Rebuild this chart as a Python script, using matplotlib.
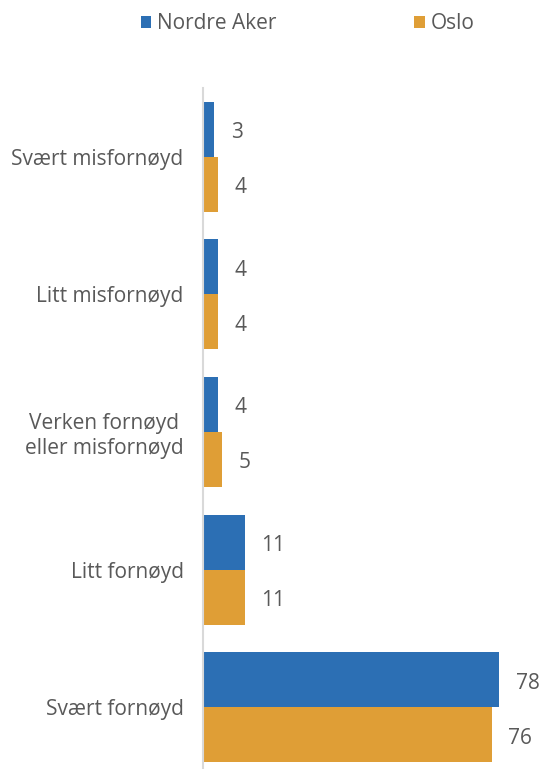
import matplotlib.pyplot as plt
import numpy as np

categories = ['Svært misfornøyd', 'Litt misfornøyd', 'Verken fornøyd\neller misfornøyd',
              'Litt fornøyd', 'Svært fornøyd']
nordre_aker = [3, 4, 4, 11, 78]
oslo = [4, 4, 5, 11, 76]
series_names = ['Nordre Aker', 'Oslo']

blue = '#2C6FB4'
orange = '#DF9E36'
grey = '#595959'
fs = 15

plt.rcParams['font.family'] = ['Open Sans', 'DejaVu Sans']

fig = plt.figure(figsize=(5.4, 7.69), dpi=100)
ax = fig.add_axes([203 / 540, 1 - 776 / 769, 304 / 540, 688 / 769])

y = np.arange(len(categories))
h = 0.4
b1 = ax.barh(y - h / 2, nordre_aker, height=h, color=blue, label=series_names[0])
b2 = ax.barh(y + h / 2, oslo, height=h, color=orange, label=series_names[1])

for bars, vals in [(b1, nordre_aker), (b2, oslo)]:
    for bar, v in zip(bars, vals):
        ax.annotate(str(v), (bar.get_width(), bar.get_y() + bar.get_height() / 2),
                    xytext=(12, -2.5), textcoords='offset points',
                    ha='left', va='center', fontsize=fs, color=grey)

ax.set_ylim(len(categories) - 0.5, -0.5)
ax.set_xlim(0, 80)
ax.set_yticks(y)
ax.set_yticklabels(categories, fontsize=fs, color=grey)
ax.set_xticks([])

for lbl in ax.get_yticklabels():
    lbl.set_horizontalalignment('right')
    lbl.set_multialignment('center')

for s in ['top', 'right', 'bottom']:
    ax.spines[s].set_visible(False)
ax.spines['left'].set_color('#D9D9D9')
ax.spines['left'].set_linewidth(1.5)
ax.tick_params(axis='y', length=0, pad=14)

fig.legend(handles=[b1, b2], loc='center', bbox_to_anchor=(0.57, 0.969), ncol=2,
           frameon=False, fontsize=fs, labelcolor=grey, handlelength=0.5,
           handleheight=0.5, handletextpad=0.3, columnspacing=6.6)

fig.savefig('out.png', dpi=100)
